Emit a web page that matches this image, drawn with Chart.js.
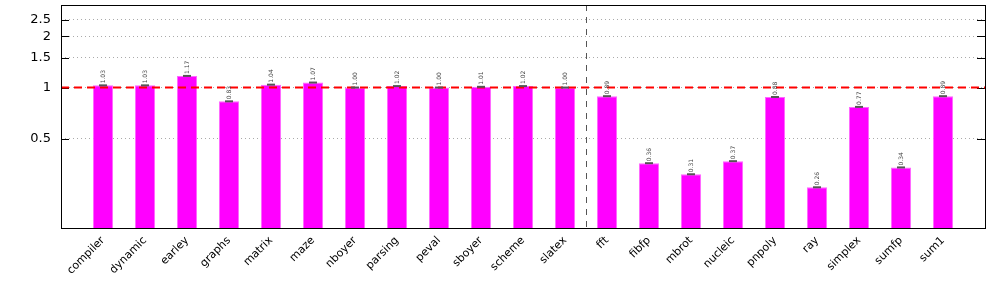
<!DOCTYPE html>
<html><head><meta charset="utf-8">
<script src="https://cdn.jsdelivr.net/npm/chart.js@4/dist/chart.umd.min.js"></script>
<style>html,body{margin:0;padding:0;background:#fff}#wrap{width:997px;height:285px;position:relative}</style>
</head><body><div id="wrap"><canvas id="c" width="997" height="285"></canvas></div>
<script>
const categories = ['compiler','dynamic','earley','graphs','matrix','maze','nboyer','parsing','peval','sboyer','scheme','slatex','fft','fibfp','mbrot','nucleic','pnpoly','ray','simplex','sumfp','sum1'];
const ratios = [1.03,1.03,1.17,0.83,1.04,1.07,1.00,1.02,1.00,1.01,1.02,1.00,0.89,0.36,0.31,0.37,0.88,0.26,0.77,0.34,0.89];
const yTicks = [0.5,1,1.5,2,2.5];
const baseline = 1;
const separatorAfter = 'slatex';

const labels = [''].concat(categories, ['']);
const dataVals = [null].concat(ratios, [null]);

const overlay = {
  id: 'overlay',
  afterDatasetsDraw(chart) {
    const ctx = chart.ctx, a = chart.chartArea;
    const xs = chart.scales.x, ys = chart.scales.y;
    ctx.save();
    ctx.strokeStyle = '#000'; ctx.lineWidth = 1;
    yTicks.forEach(v => {
      const y = Math.round(ys.getPixelForValue(v)) + 0.5;
      ctx.beginPath(); ctx.moveTo(a.left, y); ctx.lineTo(a.left + 8, y);
      ctx.moveTo(a.right - 8, y); ctx.lineTo(a.right, y); ctx.stroke();
    });
    const si = labels.indexOf(separatorAfter);
    const sx = Math.round((xs.getPixelForValue(si) + xs.getPixelForValue(si + 1)) / 2) + 0.5;
    ctx.strokeStyle = '#555'; ctx.setLineDash([6, 6]); ctx.lineWidth = 1;
    ctx.beginPath(); ctx.moveTo(sx, a.top); ctx.lineTo(sx, a.bottom); ctx.stroke();
    const by = ys.getPixelForValue(baseline);
    ctx.strokeStyle = '#ff0000'; ctx.lineWidth = 2; ctx.setLineDash([8, 5]);
    ctx.beginPath(); ctx.moveTo(a.left, by); ctx.lineTo(a.right, by); ctx.stroke();
    ctx.setLineDash([]);
    ratios.forEach((v, i) => {
      const x = xs.getPixelForValue(i + 1);
      const y = ys.getPixelForValue(v);
      ctx.strokeStyle = '#555'; ctx.lineWidth = 2;
      ctx.beginPath(); ctx.moveTo(x - 4, y); ctx.lineTo(x + 4, y); ctx.stroke();
      ctx.save();
      ctx.translate(x, y - 2);
      ctx.rotate(-Math.PI / 2);
      ctx.fillStyle = '#444';
      ctx.font = '6px "DejaVu Sans"';
      ctx.textAlign = 'left'; ctx.textBaseline = 'middle';
      ctx.fillText(v.toFixed(2), 0, 0);
      ctx.restore();
    });
    ctx.strokeStyle = '#000'; ctx.lineWidth = 1;
    ctx.strokeRect(Math.round(a.left) + 0.5, Math.round(a.top) + 0.5, Math.round(a.right - a.left), Math.round(a.bottom - a.top));
    ctx.restore();
  }
};

new Chart(document.getElementById('c'), {
  type: 'bar',
  data: { labels, datasets: [{ data: dataVals, backgroundColor: '#ff00ff', borderColor: '#ff66ff', borderWidth: 1, categoryPercentage: 1, barPercentage: 0.48 }] },
  options: {
    responsive: false, animation: false,
    layout: { padding: { top: 5, right: 12, left: 0, bottom: 0 } },
    plugins: { legend: { display: false }, tooltip: { enabled: false } },
    scales: {
      x: {
        offset: false,
        grid: { display: false, drawTicks: false },
        border: { display: false },
        ticks: { autoSkip: false, minRotation: 45, maxRotation: 45, color: '#000', font: { family: 'DejaVu Sans', size: 11 }, padding: 6 },
        afterFit(s) { s.height = 57; s.paddingLeft = 0; s.paddingRight = 0; }
      },
      y: {
        type: 'logarithmic', min: 0.15, max: 3.05,
        afterBuildTicks(s) { s.ticks = yTicks.map(v => ({ value: v })); },
        grid: { color: '#aaa', lineWidth: 1, drawTicks: false },
        border: { display: false, dash: [1, 3] },
        ticks: { color: '#000', font: { family: 'DejaVu Sans', size: 13 }, padding: 10, callback: v => String(v) },
        afterFit(s) { s.width = 61; s.paddingTop = 0; s.paddingBottom = 0; }
      }
    }
  },
  plugins: [overlay]
});
</script></body></html>
